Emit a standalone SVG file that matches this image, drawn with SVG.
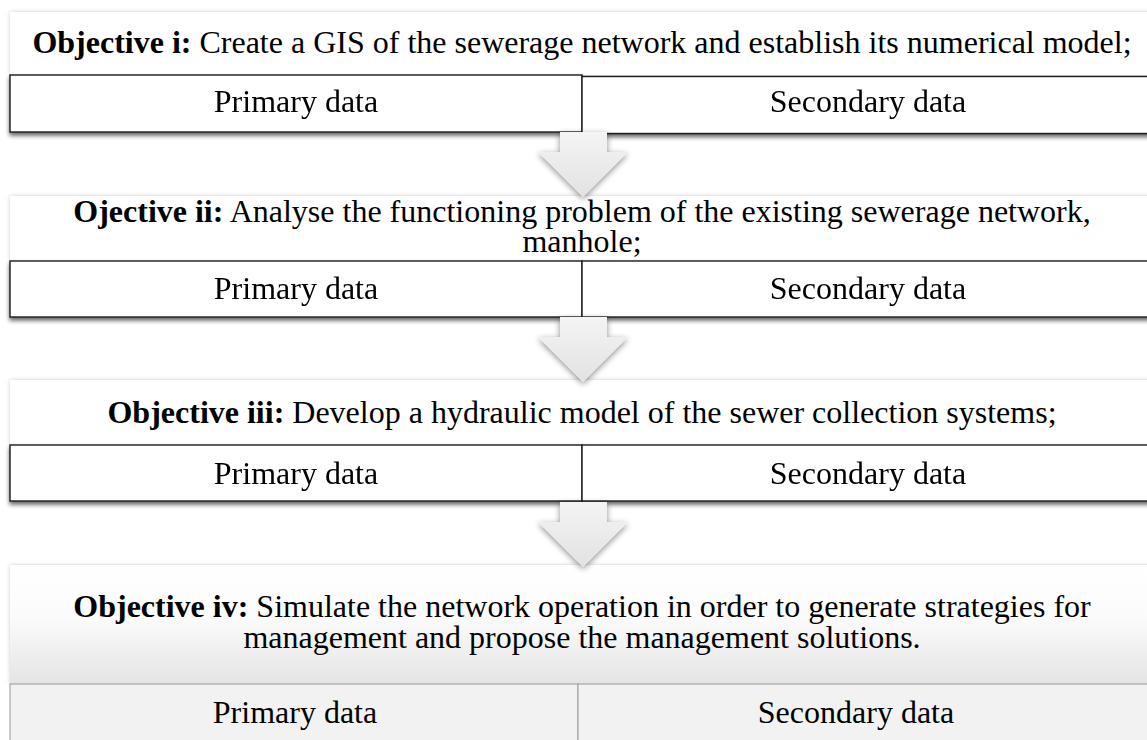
<svg xmlns="http://www.w3.org/2000/svg" width="1147" height="740" viewBox="0 0 1147 740">
  <defs>
    <style>
      text { font-family: "Liberation Serif", "Times New Roman", serif; font-size: 32px; fill: #000; }
      .b { font-weight: bold; }
      .hdr { fill: #fff; }
      .cell { fill: #fff; stroke: #1a1a1a; stroke-width: 1.4; }
      .cell4 { fill: #f2f2f2; stroke: #a6a6a6; stroke-width: 1.2; }
      .arrow { fill: url(#arrowFill); }
    </style>
    <linearGradient id="arrowFill" x1="0" y1="0" x2="0" y2="1">
      <stop offset="0" stop-color="#f4f4f4"/>
      <stop offset="1" stop-color="#e2e2e2"/>
    </linearGradient>
    <linearGradient id="hdr4Fill" x1="0" y1="0" x2="0" y2="1">
      <stop offset="0" stop-color="#ffffff"/>
      <stop offset="0.45" stop-color="#fbfbfb"/>
      <stop offset="1" stop-color="#e4e4e4"/>
    </linearGradient>
    <!-- soft halo around the heading panels -->
    <filter id="glow" x="-5%" y="-30%" width="110%" height="160%">
      <feGaussianBlur in="SourceAlpha" stdDeviation="2"/>
      <feOffset dx="0" dy="0"/>
      <feComponentTransfer><feFuncA type="linear" slope="0.2"/></feComponentTransfer>
      <feMerge><feMergeNode/><feMergeNode in="SourceGraphic"/></feMerge>
    </filter>
    <!-- drop shadow under the data rows -->
    <filter id="drop" x="-5%" y="-30%" width="110%" height="170%">
      <feGaussianBlur in="SourceAlpha" stdDeviation="2.2"/>
      <feOffset dx="0" dy="3" result="o"/>
      <feComponentTransfer><feFuncA type="linear" slope="0.6"/></feComponentTransfer>
      <feMerge><feMergeNode/><feMergeNode in="SourceGraphic"/></feMerge>
    </filter>
    <filter id="arrowShadow" x="-30%" y="-30%" width="160%" height="160%">
      <feGaussianBlur in="SourceAlpha" stdDeviation="3"/>
      <feOffset dx="0" dy="2"/>
      <feComponentTransfer><feFuncA type="linear" slope="0.45"/></feComponentTransfer>
      <feMerge><feMergeNode/><feMergeNode in="SourceGraphic"/></feMerge>
    </filter>
    <path id="downArrow" d="M-23 0 H24 V20 H45 L0 65 L-45 20 H-23 Z"/>
  </defs>

  <!-- Objective i -->
  <g id="obj1">
    <rect class="hdr" x="10" y="12" width="1144" height="63" filter="url(#glow)"/>
    <text x="582" y="53" text-anchor="middle"><tspan class="b">Objective i:</tspan> Create a GIS of the sewerage network and establish its numerical model;</text>
  </g>
  <g id="obj1-data" filter="url(#drop)">
    <g id="obj1-primary">
      <rect class="cell" x="10" y="75" width="572" height="57"/>
      <text x="296" y="112" text-anchor="middle">Primary data</text>
    </g>
    <g id="obj1-secondary">
      <rect class="cell" x="582" y="76.5" width="572" height="57"/>
      <text x="868" y="112" text-anchor="middle">Secondary data</text>
    </g>
  </g>

  <!-- Objective ii -->
  <g id="obj2">
    <rect class="hdr" x="10" y="196" width="1144" height="65" filter="url(#glow)"/>
    <text x="582" y="222" text-anchor="middle"><tspan class="b">Ojective ii:</tspan> Analyse the functioning problem of the existing sewerage network,</text>
    <text x="582" y="252" text-anchor="middle">manhole;</text>
  </g>
  <g id="obj2-data" filter="url(#drop)">
    <g id="obj2-primary">
      <rect class="cell" x="10" y="261" width="572" height="56"/>
      <text x="296" y="299" text-anchor="middle">Primary data</text>
    </g>
    <g id="obj2-secondary">
      <rect class="cell" x="582" y="261" width="572" height="56"/>
      <text x="868" y="299" text-anchor="middle">Secondary data</text>
    </g>
  </g>

  <!-- Objective iii -->
  <g id="obj3">
    <rect class="hdr" x="10" y="380" width="1144" height="65" filter="url(#glow)"/>
    <text x="582" y="423" text-anchor="middle"><tspan class="b">Objective iii:</tspan> Develop a hydraulic model of the sewer collection systems;</text>
  </g>
  <g id="obj3-data" filter="url(#drop)">
    <g id="obj3-primary">
      <rect class="cell" x="10" y="445" width="572" height="56"/>
      <text x="296" y="484" text-anchor="middle">Primary data</text>
    </g>
    <g id="obj3-secondary">
      <rect class="cell" x="582" y="445" width="572" height="56"/>
      <text x="868" y="484" text-anchor="middle">Secondary data</text>
    </g>
  </g>

  <!-- Objective iv -->
  <g id="obj4">
    <rect x="10" y="565" width="1144" height="119" fill="url(#hdr4Fill)" filter="url(#glow)"/>
    <text x="582" y="617" text-anchor="middle"><tspan class="b">Objective iv:</tspan> Simulate the network operation in order to generate strategies for</text>
    <text x="582" y="648" text-anchor="middle">management and propose the management solutions.</text>
  </g>
  <g id="obj4-data">
    <g id="obj4-primary">
      <rect class="cell4" x="10" y="684" width="568" height="60"/>
      <text x="295" y="723" text-anchor="middle">Primary data</text>
    </g>
    <g id="obj4-secondary">
      <rect class="cell4" x="578" y="684" width="576" height="60"/>
      <text x="856" y="723" text-anchor="middle">Secondary data</text>
    </g>
  </g>

  <!-- flow arrows between objectives -->
  <g id="connectors" class="arrow" filter="url(#arrowShadow)">
    <use href="#downArrow" x="583" y="132"/>
    <use href="#downArrow" x="583" y="317"/>
    <use href="#downArrow" x="583" y="502"/>
  </g>
</svg>
